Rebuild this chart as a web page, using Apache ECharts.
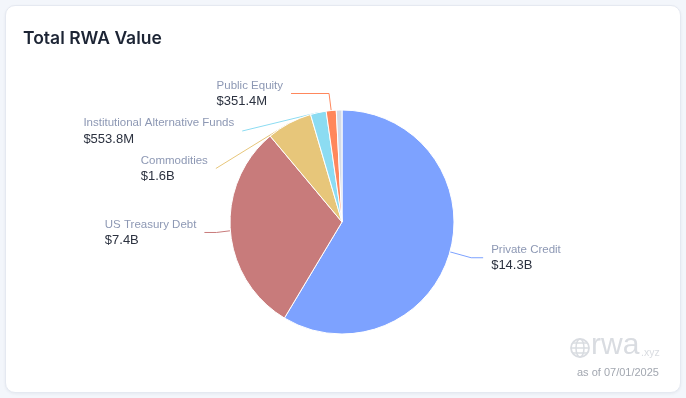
<!doctype html>
<html>
<head>
<meta charset="utf-8">
<title>Total RWA Value</title>
<script src="https://cdn.jsdelivr.net/npm/echarts@6/dist/echarts.min.js"></script>
<style>
  html, body { margin: 0; padding: 0; background: #f3f6fb; }
  #card {
    position: absolute; left: 5px; top: 5px; width: 674px; height: 386px;
    background: #fff; border: 1px solid #e5e9f1; border-radius: 10px;
    box-shadow: 0 1px 3px rgba(20, 30, 60, 0.06);
  }
  #myChart { position: absolute; left: 0; top: 0; width: 686px; height: 398px; }
</style>
</head>
<body>
<div id="card"></div>
<div id="myChart"></div>
<script type="text/javascript">
  // categories and values (billions USD)
  var categories = ['Private Credit', 'US Treasury Debt', 'Commodities', 'Institutional Alternative Funds', 'Public Equity', 'Non-US Government Debt'];
  var values = [14.3, 7.4, 1.6, 0.5538, 0.3514, 0.2];
  var valueLabels = ['$14.3B', '$7.4B', '$1.6B', '$553.8M', '$351.4M', '$200.0M'];
  var colors = ['#7da2ff', '#c87b7b', '#e7c67a', '#8cdcf2', '#ff875c', '#d3dbe8'];
  var hiddenLabels = ['Non-US Government Debt'];

  var myChart = echarts.init(document.getElementById('myChart'), null, { renderer: 'canvas' });

  var pieData = categories.map(function (name, i) {
    var item = { name: name, value: values[i] };
    if (hiddenLabels.indexOf(name) >= 0) {
      item.label = { show: false };
      item.labelLine = { show: false };
    }
    // the top label gets a longer horizontal leader
    if (name === 'Public Equity') item.labelLine = { length2: 38 };
    return item;
  });

  var wm = '#d9dce1';

  myChart.setOption({
    color: colors,
    animation: false,
    title: {
      text: 'Total RWA Value',
      left: 18, top: 25,
      textStyle: { fontFamily: 'Inter', fontSize: 17.5, fontWeight: 600, color: '#1c2434' }
    },
    graphic: [
      // globe icon for the watermark
      { type: 'circle', shape: { cx: 580, cy: 348, r: 9 }, style: { fill: 'none', stroke: wm, lineWidth: 1.8 } },
      { type: 'ellipse', shape: { cx: 580, cy: 348, rx: 4, ry: 9 }, style: { fill: 'none', stroke: wm, lineWidth: 1.5 } },
      { type: 'line', shape: { x1: 571, y1: 348, x2: 589, y2: 348 }, style: { stroke: wm, lineWidth: 1.5 } },
      { type: 'line', shape: { x1: 573, y1: 343, x2: 587, y2: 343 }, style: { stroke: wm, lineWidth: 1.5 } },
      { type: 'line', shape: { x1: 573, y1: 353, x2: 587, y2: 353 }, style: { stroke: wm, lineWidth: 1.5 } },
      { type: 'text', left: 591, top: 331, style: { text: 'rwa', fontFamily: 'Liberation Sans', fontSize: 30, fill: wm } },
      { type: 'text', left: 641, top: 348, style: { text: '.xyz', fontFamily: 'Liberation Sans', fontSize: 10.5, fill: wm } },
      { type: 'text', left: 577, top: 367, style: { text: 'as of 07/01/2025', fontFamily: 'Liberation Sans', fontSize: 11, fill: '#a2a7b0' } }
    ],
    series: [{
      type: 'pie',
      left: 4, right: 6, top: 75, bottom: 29,
      center: ['50%', '50%'],
      radius: [0, 112],
      startAngle: 90,
      clockwise: true,
      data: pieData,
      itemStyle: { borderColor: '#fff', borderWidth: 1 },
      label: {
        minMargin: 9,
        distanceToLabelLine: 8,
        formatter: function (p) { return '{n|' + p.name + '}\n{v|' + valueLabels[p.dataIndex] + '}'; },
        rich: {
          n: { fontFamily: 'Liberation Sans', fontSize: 11.5, color: '#8d98b4', align: 'left', lineHeight: 16 },
          v: { fontFamily: 'Liberation Sans', fontSize: 13, color: '#2c3240', align: 'left', lineHeight: 16 }
        }
      },
      labelLine: { length: 22, length2: 12, lineStyle: { width: 1 } }
    }]
  });
</script>
</body>
</html>
